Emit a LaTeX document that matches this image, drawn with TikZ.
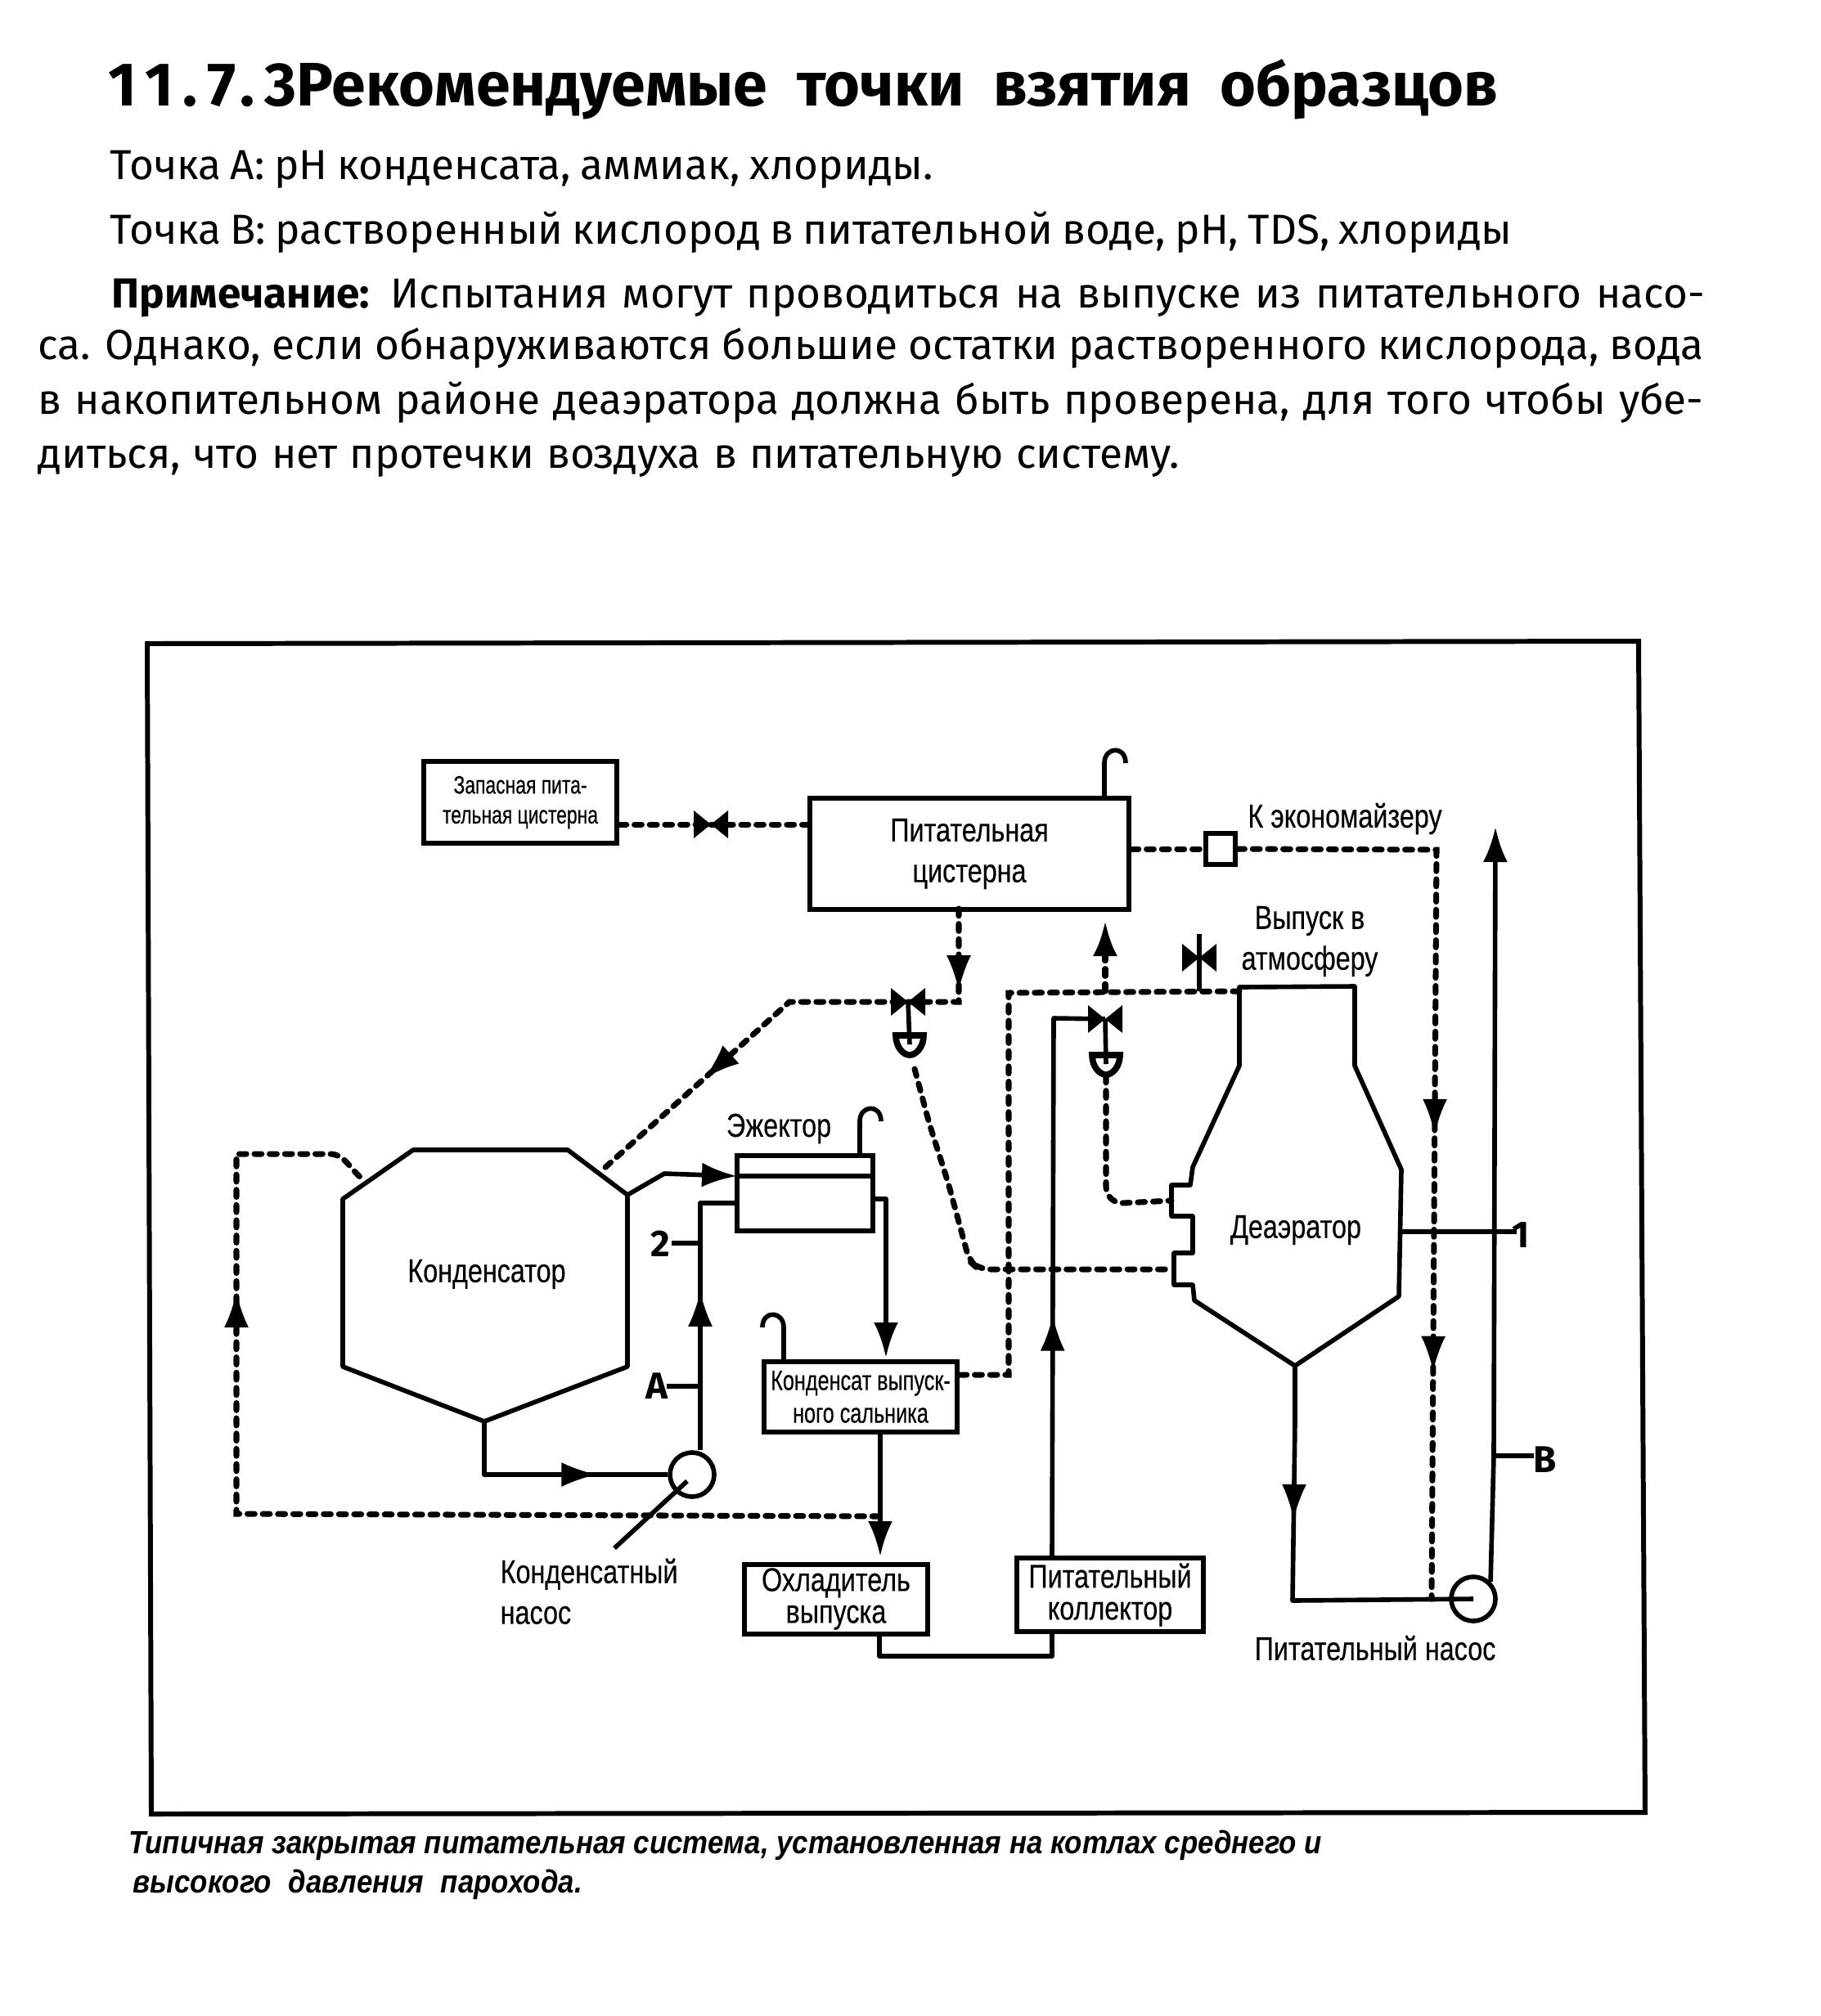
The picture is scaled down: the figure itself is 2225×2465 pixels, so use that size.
\documentclass[tikz,border=0pt]{standalone}
\usepackage{fontspec}
\usepackage{tikz}
\usetikzlibrary{positioning,arrows.meta,decorations.markings}
\setmainfont{Fira Sans}
\newfontfamily\diagf[FakeStretch=0.8,FakeBold=0.25]{Liberation Sans}
\newfontfamily\tinyf[FakeStretch=0.74,FakeBold=0.35]{Liberation Sans}
\newfontfamily\capf[FakeStretch=0.885]{Liberation Sans}
\newcommand{\fitline}[2]{\makebox[#1][s]{#2}}

\begin{document}
\begin{tikzpicture}[
  x=0.1mm, y=-0.1mm,
  every node/.style={inner sep=0pt, align=center, font=\diagf\fontsize{11.5}{14.2}\selectfont},
  bodytxt/.style={anchor=base west, font=\fontsize{14.6}{16}\selectfont},
  titletxt/.style={anchor=base west, font=\bfseries\fontsize{21.4}{24}\selectfont},
  captxt/.style={anchor=base west, font=\capf\bfseries\itshape\fontsize{11.2}{14}\selectfont},
  tagtxt/.style={font=\bfseries\fontsize{13}{15}\selectfont\rmfamily},
  tinytxt/.style={font=\tinyf\fontsize{8.8}{10.4}\selectfont},
  unit/.style={draw, line width=1.7pt},
  vessel/.style={draw, line width=1.6pt, line join=round},
  pump/.style={draw, circle, line width=1.6pt, minimum size=5.4mm},
  pipe/.style={draw, line width=1.6pt, line join=round},
  air/.style={line width=2pt, dash pattern=on 2.5pt off 2.8pt, line cap=round},
  flow/.style={pipe, -{Latex[length=4.3mm,width=3mm]}},
  airflow/.style={air, -{Latex[length=4.3mm,width=3mm]}},
  headat/.style={postaction={decorate, decoration={markings,
    mark=at position #1 with {\arrow[line width=1pt, solid]{Latex[length=4.3mm,width=3mm]}}}}},
  valve/.pic={\fill (-21,-17) -- (0,0) -- (-21,17) -- cycle (21,-17) -- (0,0) -- (21,17) -- cycle;},
  actuator/.pic={\draw[line width=2.2pt] (-17,-11) -- (17,-11) .. controls (17,3) and (8,13) .. (0,13)
    .. controls (-8,13) and (-17,3) .. (-17,-11) -- cycle;},
  vent/.pic={\draw[pipe] (0,0) -- (0,-42) .. controls (0,-62) and (26,-64) .. (26,-42);},
]

\useasboundingbox (0,0) rectangle (2225,2465);

\node[titletxt] (title) at (132,129) {\addfontfeature{LetterSpace=15}11.7.3\addfontfeature{LetterSpace=0}Рекомендуемые\ \ точки\ \ взятия\ \ образцов};
\node[bodytxt] (pointA) at (134,219) {\fitline{100.6mm}{Точка А: pH конденсата, аммиак, хлориды.}};
\node[bodytxt] (pointB) at (134,298) {\fitline{171.4mm}{Точка В: растворенный кислород в питательной воде, pH, TDS, хлориды}};
\node[bodytxt] (noteA) at (136,376) {\fitline{194.7mm}{\textbf{Примечание:} Испытания могут проводиться на выпуске из питательного насо-}};
\node[bodytxt] (noteB) at (46,439) {\fitline{203.6mm}{са. Однако, если обнаруживаются большие остатки растворенного кислорода, вода}};
\node[bodytxt] (noteC) at (46,506) {\fitline{203.6mm}{в накопительном районе деаэратора должна быть проверена, для того чтобы убе-}};
\node[bodytxt] (noteD) at (46,572) {\fitline{139.5mm}{диться, что нет протечки воздуха в питательную систему.}};

\draw[line width=1.7pt] (180,787) -- (2003,784) -- (2011,2216) -- (185,2218) -- cycle;

\node[unit, minimum width=23.6mm, minimum height=10mm, tinytxt] (reserve) at (636,981) {Запасная пита-\\тельная цистерна};
\node[unit, minimum width=39mm, minimum height=13.6mm] (feedtank) at (1185,1044) {Питательная\\цистерна};
\node[unit, minimum width=16.6mm, minimum height=9.2mm] (ejector) at (984,1459) {};
\node[unit, minimum width=23.6mm, minimum height=8.6mm, font=\tinyf\fontsize{9.7}{10.4}\selectfont] (gland) at (1052,1708) {Конденсат выпуск-\\[0.1em]ного сальника};
\node[unit, minimum width=22.4mm, minimum height=8.5mm] (cooler) at (1022,1955) {Охладитель\\[-0.27em]выпуска};
\node[unit, minimum width=22.8mm, minimum height=9mm] (collector) at (1357,1950) {Питательный\\[-0.27em]коллектор};
\node[draw, line width=1.5pt, minimum width=3.6mm, minimum height=3.8mm] (meter) at (1492,1038) {};
\node[pump] (condpump) at (846,1803) {};
\node[pump] (feedpump) at (1801,1955) {};

\coordinate (cnA) at (419,1466);
\coordinate (cnB) at (505,1406);
\coordinate (cnC) at (694,1406);
\coordinate (cnD) at (767,1461);
\coordinate (cnE) at (767,1671);
\coordinate (cnF) at (592,1738);
\coordinate (cnG) at (419,1671);
\coordinate (daTop) at (1515,1207);
\coordinate (daTopR) at (1656,1206);
\coordinate (daMid) at (1713,1506);
\coordinate (daBot) at (1583,1670);
\coordinate (daPortA) at (1432,1468);
\coordinate (daPortB) at (1434,1552);
\coordinate (cnVent) at (442,1441);
\coordinate (cnDiag) at (738,1429);
\coordinate (ejIn) at (901,1438);
\coordinate (ejOut) at (1067,1466);
\coordinate (ejPipe) at (901,1471);
\coordinate (glandIn) at (1083,1660);
\coordinate (glandOut) at (1076,1750);
\coordinate (coolIn) at (1076,1912);
\coordinate (coolOut) at (1075,1997);
\coordinate (colOut) at (1286,1905);
\coordinate (colIn) at (1286,1995);
\coordinate (airTap) at (1075,1854);
\coordinate (tankOut) at (1172,1111);
\coordinate (tankIn) at (1351,1126);
\coordinate (vlvFeed) at (869,1008);
\coordinate (vlvLeft) at (1110,1225);
\coordinate (vlvMid) at (1351,1246);
\coordinate (vlvTop) at (1466,1171);
\coordinate (actLeft) at (1112,1277);
\coordinate (actMid) at (1352,1301);
\coordinate (tagA) at (815,1695);
\coordinate (pumpTail) at (751,1893);

\draw[vessel] (cnA) -- (cnB) -- (cnC) -- (cnD) -- (cnE) -- (cnF) -- (cnG) -- cycle;
\draw[vessel] (daTop) -- (daTopR) -- (1656,1303) -- (1713,1430) -- (1710,1585) -- (daBot)
  -- (1460,1590) -- (1458,1571) -- (1435,1571) -- (1435,1532) -- (1458,1532) -- (1458,1487)
  -- (1432,1487) -- (1432,1449) -- (1455,1449) -- (1458,1427) -- (1515,1303) -- cycle;
\node (condlabel) at (595,1558) {Конденсатор};
\node (dealabel) at (1584,1504) {Деаэратор};

\draw[pipe, headat=0.7] (cnF) |- (condpump.west);
\draw[pipe, headat=0.56] (condpump.north -| 856,0) -- (856,1471) -- (ejPipe);
\draw[flow] (cnD) -- (812,1435) -- (ejIn);
\draw[pipe] (ejIn) -- (ejector.east |- ejIn);
\draw[flow] (ejOut) -- (1083,1466) -- (glandIn);
\draw[flow, shorten >=0.9mm] (glandOut) -- (coolIn);
\draw[pipe] (coolOut) |- (1286,2025) -- (colIn);
\draw[pipe, headat=0.41] (colOut) -- (1288,1245) -- (vlvMid);
\draw[pipe] (daMid) -- (1854,1506);
\draw[pipe, headat=0.37] (daBot) -- (1583,1740) -- (1580,1957) -- (feedpump.center);
\draw[flow] (feedpump.north east) -- (1826,1780) -- (1828,1011);
\draw[pipe] (condpump.center) ++(-6,8) -- (pumpTail);
\draw[pipe] (tagA) -- (856,1695);
\draw[pipe] (821,1520) -- (856,1520);
\draw[pipe] (1828,1780) -- (1875,1780);

\draw[air, headat=0.76] (airTap) -- (289,1851) -- (289,1411) -- (403,1411)
  .. controls (420,1411) and (425,1425) .. (cnVent);
\draw[air, headat=0.16, headat=0.736] (tankOut) -- (1172,1225) -- (965,1225) -- (cnDiag);
\draw[air] (reserve.east |- vlvFeed) -- (feedtank.west |- vlvFeed);
\draw[air] (feedtank.east |- meter) -- (meter.west);
\draw[air, headat=0.51, headat=0.76] (meter.east) -- (1756,1039) -- (1750,1955);
\draw[air] (gland.east |- 0,1681) -- (1233,1681) -- (1233,1214) -- (daTop |- 0,1212);
\draw[airflow] (1351,1212) -- (tankIn);
\draw[air, rounded corners=6pt] (actMid) ++(0,14) -- (1352,1472) -- (daPortA);
\draw[air, rounded corners=4pt] (actLeft) ++(6,30) -- (1136,1374) -- (1159,1446) -- (1185,1542) -- (1196,1552) -- (daPortB);

\pic at (vlvFeed) {valve};
\pic at (vlvLeft) {valve};
\pic at (vlvMid) {valve};
\pic at (vlvTop) {valve};
\draw[pipe] (vlvTop) ++(0,-29) -- (1466,1212);
\draw[pipe] (vlvLeft) -- (actLeft);
\draw[pipe] (vlvMid) -- (actMid);
\pic at (actLeft) {actuator};
\pic at (actMid) {actuator};

\pic at (1350,975) {vent};
\pic at (1051,1413) {vent};
\pic[xscale=-1] at (958,1665) {vent};

\node[tagtxt] (tagletA) at (803,1695) {A};
\node[tagtxt] (tagTwo) at (807,1521) {2};
\node[tagtxt] (tagOne) at (1859,1510) {1};
\node[tagtxt] (tagletB) at (1889,1785) {B};

\node (eclabel) at (1644,1001) {К экономайзеру};
\node (ventlabel) at (1601,1151) {Выпуск в\\атмосферу};
\node (ejlabel) at (952,1380) {Эжектор};
\node[anchor=north west, align=left] (pumplabel) at (611,1905) {Конденсатный\\насос};
\node (feedpumplabel) at (1681,2015) {Питательный насос};

\node[captxt] (capA) at (157,2266) {Типичная закрытая питательная система, установленная на котлах среднего и};
\node[captxt] (capB) at (162,2314) {\fitline{54.9mm}{высокого давления парохода.}};

\end{tikzpicture}
\end{document}
